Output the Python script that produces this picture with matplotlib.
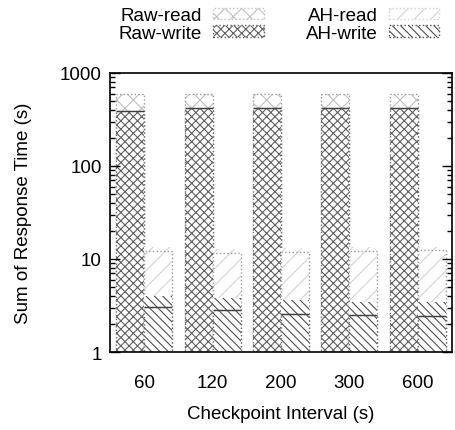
import matplotlib
matplotlib.use("Agg")
import matplotlib.pyplot as plt
from matplotlib.patches import Patch
import numpy as np

plt.rcParams['font.family'] = ['Liberation Sans', 'DejaVu Sans']
plt.rcParams['hatch.linewidth'] = 0.8

categories = ["60", "120", "200", "300", "600"]
raw_read = [599, 597, 597, 597, 597]
raw_write = [387, 420, 420, 418, 418]
ah_read = [12.3, 11.7, 12.0, 12.3, 12.4]
ah_write = [3.02, 2.81, 2.58, 2.48, 2.42]

series = [
    ("Raw-read", raw_read, -0.205, "xx", "#c0c0c0", "#9a9a9a"),
    ("Raw-write", raw_write, -0.205, "xxxx", "#606060", "#707070"),
    ("AH-read", ah_read, 0.205, "//", "#d4d4d4", "#9a9a9a"),
    ("AH-write", ah_write, 0.205, "\\\\\\\\", "#505050", "#707070"),
]

fig = plt.figure(figsize=(4.56, 4.31), dpi=100)
ax = fig.add_axes([110/456, 1-353/431, (452-110)/456, (353-74)/431])
ax.set_yscale("log")
x = np.arange(len(categories))
w = 0.41

handles = []
for name, vals, off, hatch, hcol, ecol in series:
    ax.bar(x + off, vals, w, bottom=1, color="white", edgecolor=hcol,
           hatch=hatch, linewidth=0)
    ax.bar(x + off, np.array(vals) - 1, w, bottom=1, fill=False,
           edgecolor=ecol, linestyle=":", linewidth=1.0)
    if "write" in name:
        ax.hlines(vals, x + off - w/2, x + off + w/2, color="#404040", lw=1.0)
    handles.append(Patch(facecolor="white", edgecolor=hcol, hatch=hatch,
                         linestyle=":", linewidth=1.0, label=name))

ax.set_xlim(-0.5, len(categories) - 0.5)
ax.set_ylim(1, 1000)
ax.set_xticks(x)
ax.set_xticklabels(categories, fontsize=13.5)
ax.set_yticks([1, 10, 100, 1000])
ax.set_yticklabels(["1", "10", "100", "1000"], fontsize=13.5)
ax.tick_params(axis="y", which="major", direction="in", length=7, right=True,
               width=1, pad=6)
ax.tick_params(axis="y", which="minor", direction="in", length=3.5, right=True, width=1)
ax.tick_params(axis="x", length=0, pad=16)
for s in ax.spines.values():
    s.set_linewidth(1.2)
ax.set_xlabel("Checkpoint Interval (s)", fontsize=13.5, labelpad=10)
ax.set_ylabel("Sum of Response Time (s)", fontsize=13.5, labelpad=20)

fig.legend(handles=handles, ncol=2, loc="upper center",
           bbox_to_anchor=(279/456, 1.008), frameon=False, markerfirst=False,
           fontsize=13.5, handlelength=2.7, handleheight=0.55,
           handletextpad=0.6, columnspacing=2.25, labelspacing=0.05,
           borderpad=0.1)

fig.savefig("out.png", dpi=100)
